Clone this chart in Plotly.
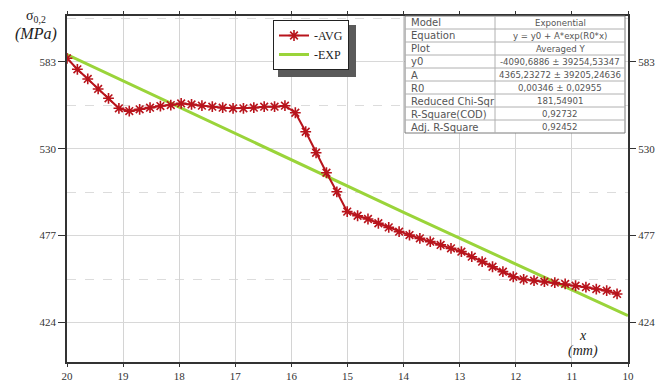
import plotly.graph_objects as go

# ---- data ----
x_avg = [20.00, 19.815, 19.63, 19.445, 19.26, 19.075, 18.89, 18.705, 18.52, 18.335,
         18.15, 17.965, 17.78, 17.595, 17.41, 17.225, 17.04, 16.855, 16.67, 16.485,
         16.30, 16.115, 15.93, 15.745, 15.56, 15.375, 15.19, 15.005, 14.82, 14.635,
         14.45, 14.265, 14.08, 13.895, 13.71, 13.525, 13.34, 13.155, 12.97, 12.785,
         12.60, 12.415, 12.23, 12.045, 11.86, 11.675, 11.49, 11.305, 11.12, 10.935,
         10.75, 10.565, 10.38, 10.195]
y_avg = [585.1, 578.4, 572.5, 566.4, 560.7, 554.6, 552.9, 554.0, 555.0, 556.0,
         556.6, 557.6, 557.0, 556.2, 555.6, 555.0, 554.6, 554.6, 555.0, 555.6,
         555.6, 556.2, 551.9, 540.3, 527.5, 515.3, 503.7, 491.6, 489.1, 487.1,
         484.5, 482.0, 479.4, 477.3, 475.3, 473.3, 471.3, 469.2, 467.2, 464.1,
         461.1, 458.0, 455.0, 451.9, 450.3, 449.5, 448.9, 448.3, 447.5, 446.4,
         445.5, 444.4, 443.4, 441.4]

x_exp = [20, 18, 16, 14, 12, 10]
y_exp = [587.3, 555.1, 523.0, 491.2, 459.6, 428.2]

x_ticks = [20, 19, 18, 17, 16, 15, 14, 13, 12, 11, 10]
y_ticks = [424, 477, 530, 583]
y_minor = [450.5, 503.5, 556.5, 609.5]

table_names = ["Model", "Equation", "Plot", "y0", "A", "R0", "Reduced Chi-Sqr",
               "R-Square(COD)", "Adj. R-Square"]
table_values = ["Exponential", "y = y0 + A*exp(R0*x)", "Averaged Y",
                "-4090,6886 ± 39254,53347", "4365,23272 ± 39205,24636",
                "0,00346 ± 0,02955", "181,54901", "0,92732", "0,92452"]

# ---- figure ----
W, H = 670, 385
OFF = 8  # page body margin offset
L, R, T, B = 67, 42, 16, 23  # target screen positions of plot area
pw, ph = W - L - R, H - T - B

def px(xp):
    return (xp - L) / pw

def py(yp):
    return (H - B - yp) / ph

serif = "Liberation Serif"
sans = "DejaVu Sans"

fig = go.Figure()

fig.add_trace(go.Scatter(
    x=x_avg, y=y_avg, name="-AVG", mode="lines+markers",
    line=dict(color="#b8141c", width=2),
    marker=dict(symbol="asterisk-open", size=9,
                line=dict(color="#ee1c24", width=1.6)),
    xaxis="x", yaxis="y2",
))
fig.add_trace(go.Scatter(
    x=x_exp, y=y_exp, name="-EXP", mode="lines",
    line=dict(color="#9ad43a", width=3),
    xaxis="x", yaxis="y",
))

# ---- fit-result table (layout shapes + text) ----
tx0, tx1, tdiv = 405, 625, 495
ty0, row_h = 16, 13
n_rows = len(table_names)
shapes = [dict(type="rect", xref="paper", yref="paper", layer="above",
               x0=px(278), x1=px(356), y0=py(77), y1=py(25),
               fillcolor="#5a5a5a", line=dict(width=0)),
          dict(type="rect", xref="paper", yref="paper", layer="above",
               x0=px(tx0), x1=px(tx1), y0=py(ty0 + row_h * n_rows), y1=py(ty0),
               fillcolor="white", line=dict(color="#7a7a7a", width=1))]
for i in range(1, n_rows):
    yy = py(ty0 + row_h * i)
    shapes.append(dict(type="line", xref="paper", yref="paper", layer="above",
                       x0=px(tx0), x1=px(tx1), y0=yy, y1=yy,
                       line=dict(color="#b0b0b0", width=1)))
shapes.append(dict(type="line", xref="paper", yref="paper", layer="above",
                   x0=px(tdiv), x1=px(tdiv), y0=py(ty0 + row_h * n_rows), y1=py(ty0),
                   line=dict(color="#b0b0b0", width=1)))

annotations = []
for i, (nm, val) in enumerate(zip(table_names, table_values)):
    yc = py(ty0 + row_h * i + row_h / 2 + 0.5)
    annotations.append(dict(text=nm, xref="paper", yref="paper", x=px(tx0 + 4), y=yc,
                            xanchor="left", yanchor="middle", showarrow=False,
                            font=dict(family=sans, size=10, color="#555")))
    annotations.append(dict(text=val, xref="paper", yref="paper", x=px((tdiv + tx1) / 2), y=yc,
                            xanchor="center", yanchor="middle", showarrow=False,
                            font=dict(family=sans, size=8.6, color="#555")))

annotations += [
    dict(text="σ<sub>0,2</sub>", xref="paper", yref="paper",
         x=px(36), y=py(16), xanchor="center", yanchor="middle", showarrow=False,
         font=dict(family=serif, size=14, color="#222")),
    dict(text="<i>(MPa)</i>", xref="paper", yref="paper",
         x=px(36), y=py(34), xanchor="center", yanchor="middle", showarrow=False,
         font=dict(family=serif, size=16, color="#222")),
    dict(text="<i>x</i>", xref="paper", yref="paper",
         x=px(583), y=py(335), xanchor="center", yanchor="middle", showarrow=False,
         font=dict(family=serif, size=14, color="#222")),
    dict(text="<i>(mm)</i>", xref="paper", yref="paper",
         x=px(583), y=py(351), xanchor="center", yanchor="middle", showarrow=False,
         font=dict(family=serif, size=14, color="#222")),
]

yr = [399.9, 610.9]
axis_font = dict(family=serif, size=11, color="#333")

fig.update_layout(
    width=W, height=H,
    margin=dict(l=L - OFF, r=R + OFF, t=T - OFF, b=B + OFF, pad=0, autoexpand=False),
    paper_bgcolor="white", plot_bgcolor="white",
    showlegend=True,
    legend=dict(x=px(273), y=py(20), xanchor="left", yanchor="top",
                bgcolor="white", bordercolor="#222", borderwidth=1,
                font=dict(family=serif, size=12, color="#222"),
                itemwidth=30, tracegroupgap=0),
    xaxis=dict(range=[20, 10], tickmode="array", tickvals=x_ticks,
               ticktext=[str(v) for v in x_ticks],
               showgrid=True, gridcolor="#d4d4d4", gridwidth=1,
               showline=True, linecolor="#333", linewidth=1.6, mirror="allticks",
               ticks="outside", ticklen=3, tickcolor="#333",
               tickfont=axis_font, zeroline=False),
    yaxis=dict(range=yr, tickmode="array", tickvals=y_ticks,
               showgrid=True, gridcolor="#d8d8d8", gridwidth=1,
               minor=dict(tickmode="array", tickvals=y_minor, showgrid=True,
                          gridcolor="#dcdcdc", griddash="dash", gridwidth=1, ticks=""),
               showline=True, linecolor="#333", linewidth=1.8, mirror=True,
               ticks="outside", ticklen=7, tickcolor="#333",
               tickfont=axis_font, zeroline=False),
    yaxis2=dict(range=yr, overlaying="y", side="right", anchor="x",
                tickmode="array", tickvals=y_ticks, showgrid=False,
                showline=False, ticks="outside", ticklen=7, tickcolor="#333",
                tickfont=axis_font, zeroline=False),
    shapes=shapes,
    annotations=annotations,
)

fig.write_html("out.html")
